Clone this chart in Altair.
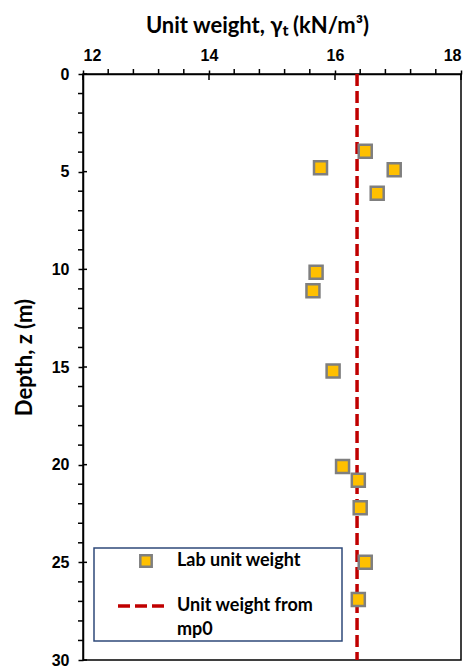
import altair as alt
import pandas as pd

# ---- data ----
unit_weight = [16.48, 15.77, 16.94, 16.67, 15.70, 15.65, 15.97, 16.12, 16.37, 16.40, 16.48, 16.37]
depth = [3.95, 4.8, 4.9, 6.1, 10.15, 11.1, 15.2, 20.1, 20.8, 22.2, 25.0, 26.9]
mp0_weight = [16.35, 16.35]
mp0_depth = [0, 30]

x_major = [12, 14, 16, 18]
x_minor = [12.4, 12.8, 13.2, 13.6, 14.4, 14.8, 15.2, 15.6, 16.4, 16.8, 17.2, 17.6]
y_major = [0, 5, 10, 15, 20, 25, 30]
y_minor = [1, 2, 3, 4, 6, 7, 8, 9, 11, 12, 13, 14, 16, 17, 18, 19, 21, 22, 23, 24, 26, 27, 28, 29]

legend_labels = ["Lab unit weight", "Unit weight from", "mp0"]

pts = pd.DataFrame({"w": unit_weight, "d": depth})
line = pd.DataFrame({"w": mp0_weight, "d": mp0_depth})
xmaj = pd.DataFrame({"v": x_major})
xmin = pd.DataFrame({"v": x_minor})
ymaj = pd.DataFrame({"v": y_major})
ymin = pd.DataFrame({"v": y_minor})
one = pd.DataFrame({"k": [0]})

xs = alt.Scale(domain=[12, 18], nice=False, zero=False)
ys = alt.Scale(domain=[0, 30], nice=False, zero=False, reverse=True)

LABEL_FONT = "Liberation Sans"
TITLE_FONT = "Lato"

x_axis = alt.Axis(orient="top", values=x_major, format="d", title="Unit weight, γₜ (kN/m³)",
                  labelFont=LABEL_FONT, labelFontWeight="bold", labelFontSize=16,
                  labelColor="black", labelPadding=7, tickSize=4, tickWidth=1.5,
                  tickColor="#000000", domainColor="#000000", domainWidth=1.5,
                  titleFont=TITLE_FONT, titleFontWeight="bold", titleFontSize=22,
                  titleColor="black", titleX=174, titleY=-49, titleBaseline="middle",
                  grid=False)
y_axis = alt.Axis(orient="left", values=y_major, format="d", title="Depth, z (m)",
                  labelFont=LABEL_FONT, labelFontWeight="bold", labelFontSize=16,
                  labelColor="black", labelPadding=9, tickSize=5, tickWidth=1.5,
                  tickColor="#000000", domainColor="#000000", domainWidth=1.5,
                  titleFont=TITLE_FONT, titleFontWeight="bold", titleFontSize=22,
                  titleColor="black", titleX=-59, titleY=283, titleBaseline="middle",
                  grid=False)

rule = alt.Chart(line).mark_line(color="#C00000", strokeWidth=3.5, strokeDash=[12, 5]).encode(
    x=alt.X("w:Q", scale=xs, axis=x_axis),
    y=alt.Y("d:Q", scale=ys, axis=y_axis),
    order=alt.Order("d:Q"),
)

x_minor_ticks = alt.Chart(xmin).mark_rule(color="#000000", strokeWidth=1.5).encode(
    x=alt.X("v:Q", scale=xs), y=alt.value(-5), y2=alt.value(0))
x_major_in = alt.Chart(xmaj).mark_rule(color="#000000", strokeWidth=1.5).encode(
    x=alt.X("v:Q", scale=xs), y=alt.value(0), y2=alt.value(6))
y_minor_ticks = alt.Chart(ymin).mark_rule(color="#000000", strokeWidth=1.5).encode(
    y=alt.Y("v:Q", scale=ys), x=alt.value(-5), x2=alt.value(0))
y_major_in = alt.Chart(ymaj).mark_rule(color="#000000", strokeWidth=1.5).encode(
    y=alt.Y("v:Q", scale=ys), x=alt.value(0), x2=alt.value(4))

points = alt.Chart(pts).mark_square(size=169, fill="#FFC000", stroke="#7F7F7F",
                                     strokeWidth=2.5, opacity=1, fillOpacity=1).encode(
    x=alt.X("w:Q", scale=xs),
    y=alt.Y("d:Q", scale=ys),
)

# ---- manual legend (one row each, so nothing is overdrawn) ----
box = alt.Chart(one).mark_rect(fill="white", stroke="#2F4A7A", strokeWidth=1.5).encode(
    x=alt.value(11), x2=alt.value(259), y=alt.value(474), y2=alt.value(567)
)
leg_sym = alt.Chart(one).mark_square(size=130, fill="#FFC000", stroke="#7F7F7F",
                                      strokeWidth=2.5, opacity=1).encode(
    x=alt.value(63), y=alt.value(487)
)
leg_line = alt.Chart(one).mark_rule(color="#C00000", strokeWidth=3.5, strokeDash=[12, 5]).encode(
    x=alt.value(35), x2=alt.value(82), y=alt.value(532)
)
txt_style = dict(font=TITLE_FONT, fontWeight="bold", fontSize=18, color="black",
                 align="left", baseline="middle")
t1 = alt.Chart(one).mark_text(text=legend_labels[0], **txt_style).encode(x=alt.value(94), y=alt.value(487))
t2 = alt.Chart(one).mark_text(text=legend_labels[1], **txt_style).encode(x=alt.value(94), y=alt.value(532))
t3 = alt.Chart(one).mark_text(text=legend_labels[2], **txt_style).encode(x=alt.value(94), y=alt.value(556))

chart = alt.layer(rule, x_minor_ticks, x_major_in, y_minor_ticks, y_major_in, points,
                  box, leg_sym, leg_line, t1, t2, t3).properties(
    width=378, height=586,
    autosize=alt.AutoSizeParams(type="none"),
    padding={"left": 83, "top": 74, "right": 11, "bottom": 6},
    background="white",
).configure_view(stroke="black", strokeWidth=1.5)

chart.save("out.html", embed_options={"renderer": "svg", "actions": False})
